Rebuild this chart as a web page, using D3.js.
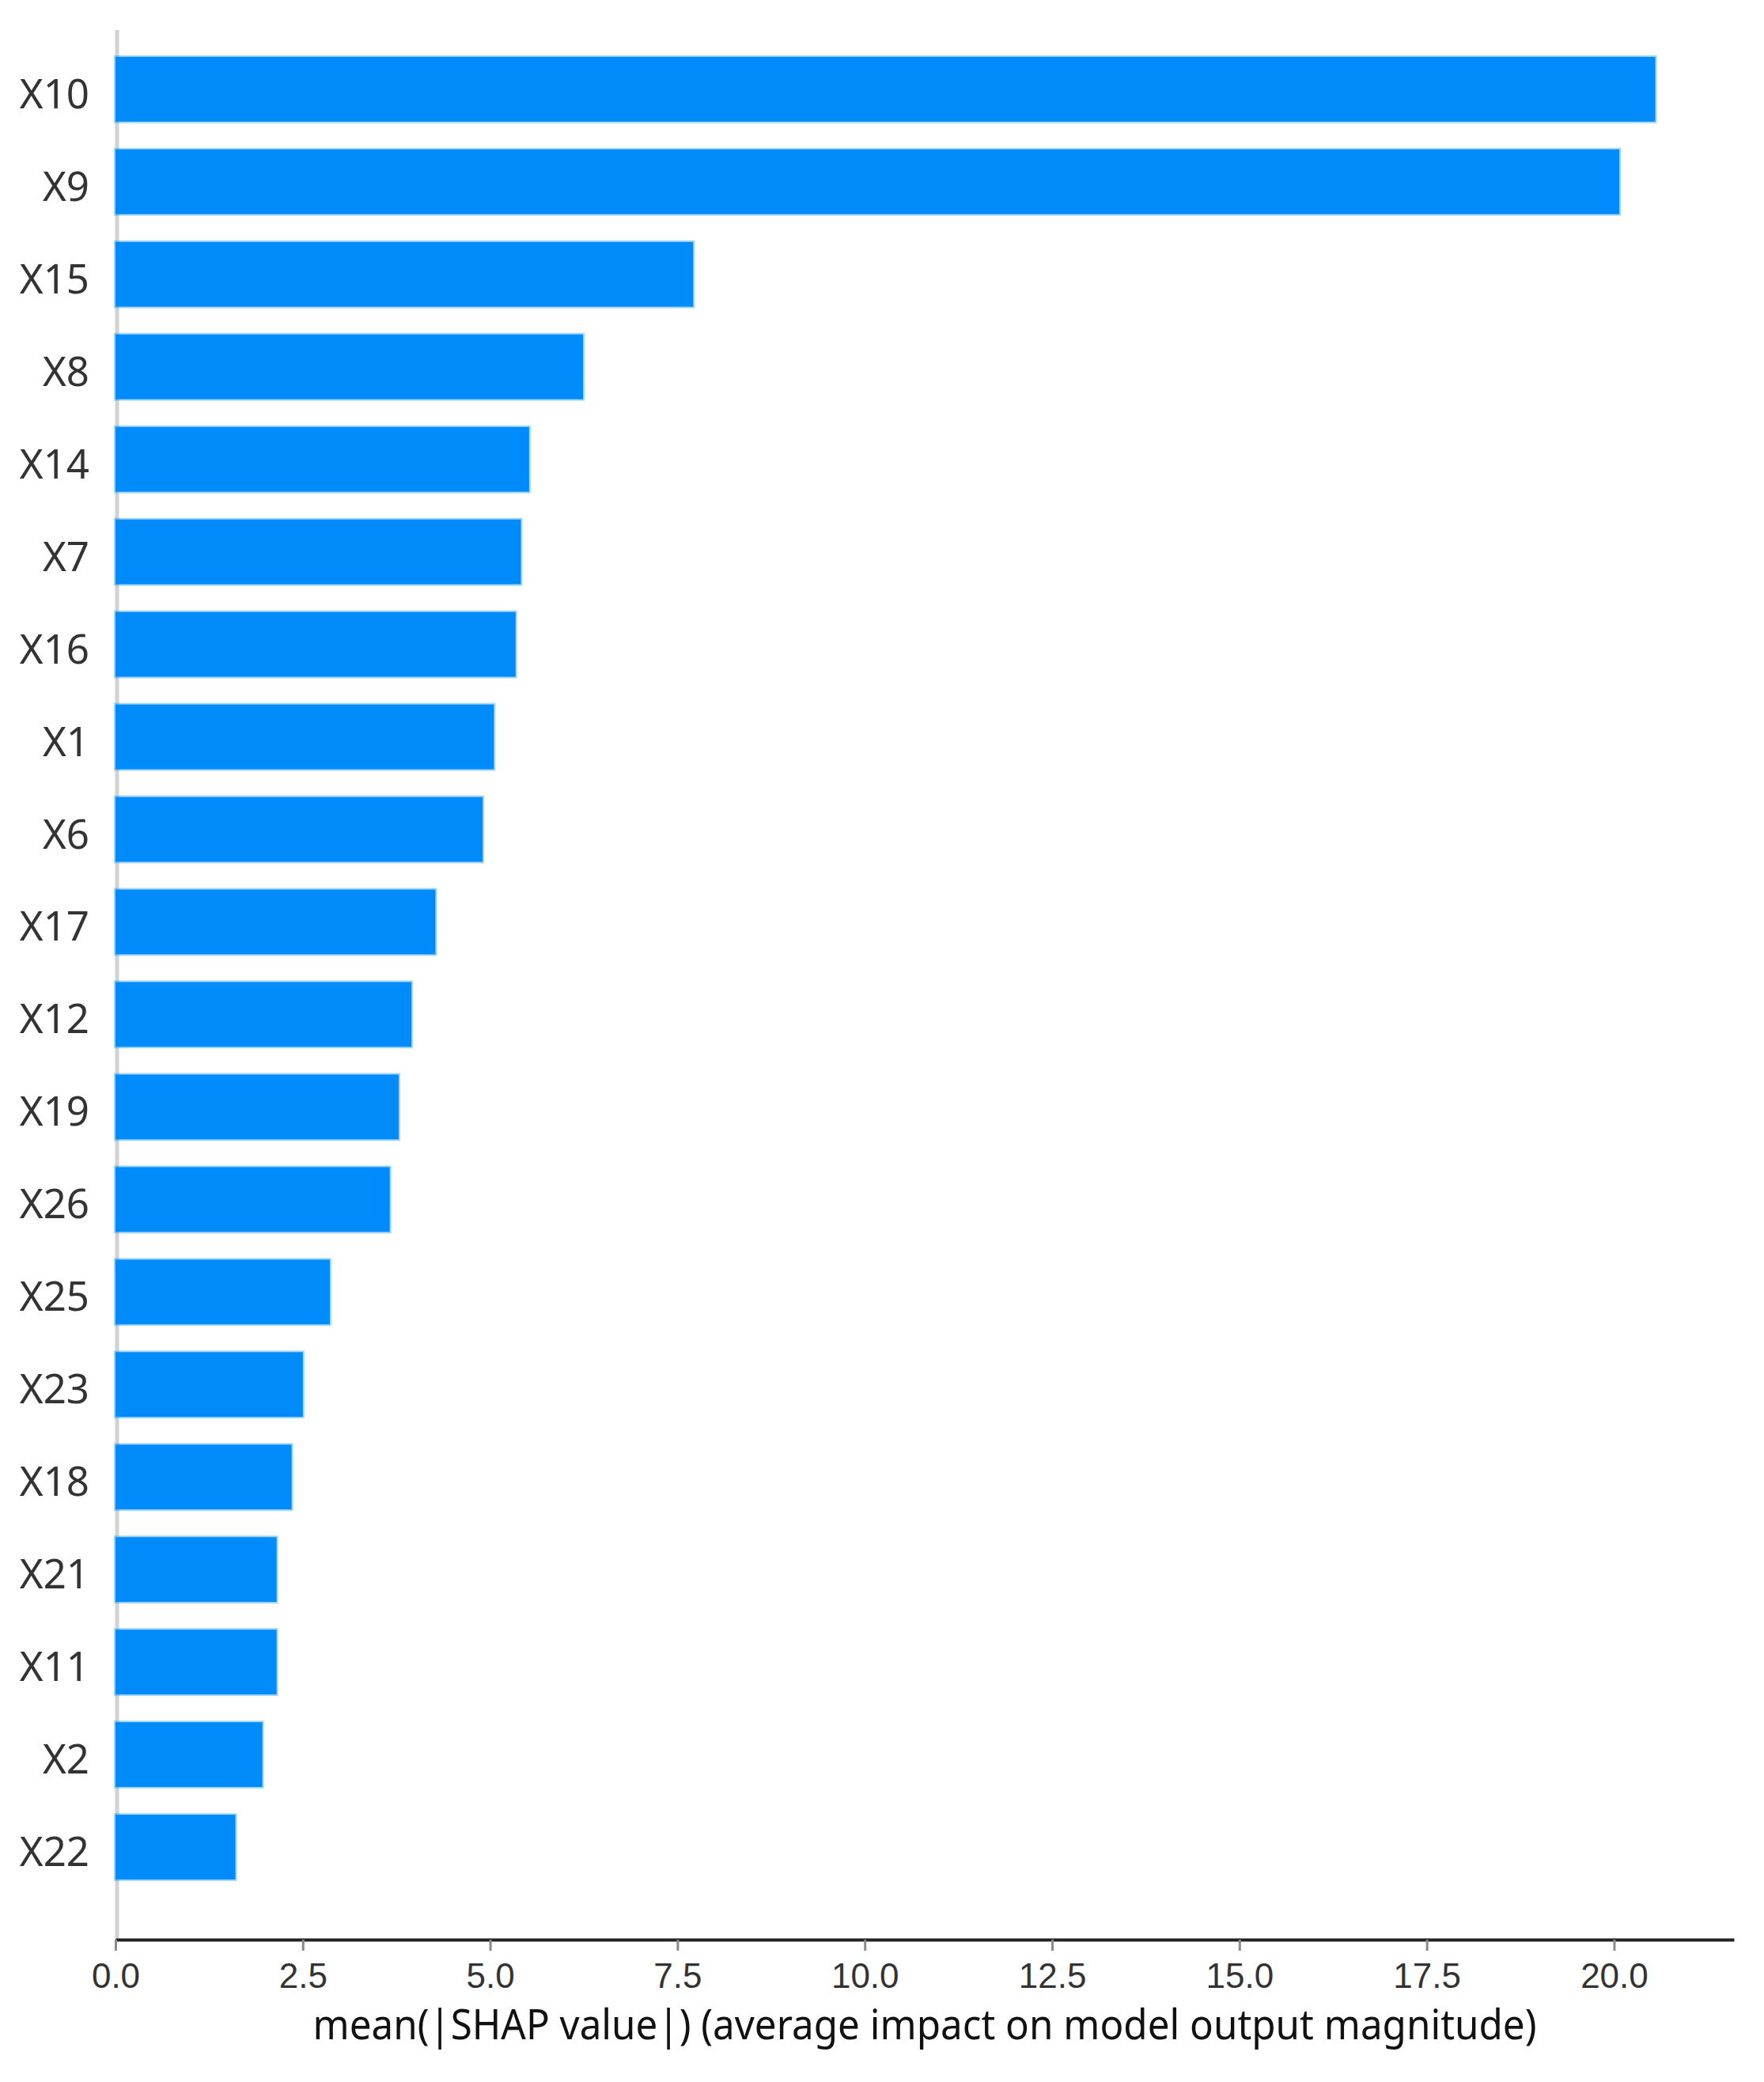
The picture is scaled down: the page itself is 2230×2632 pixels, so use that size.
<!DOCTYPE html>
<html>
<head>
<meta charset="utf-8">
<script src="https://cdn.jsdelivr.net/npm/d3@7"></script>
<style>
  html, body { margin: 0; padding: 0; background: #ffffff; }
  svg { display: block; }
</style>
</head>
<body>
<script>
// Feature names, ordered from most to least important
const features = ["X10", "X9", "X15", "X8", "X14", "X7", "X16", "X1", "X6", "X17",
                  "X12", "X19", "X26", "X25", "X23", "X18", "X21", "X11", "X2", "X22"];
// mean(|SHAP value|) per feature
const meanAbsShap = [20.55, 20.07, 7.71, 6.24, 5.52, 5.41, 5.34, 5.05, 4.90, 4.27,
                     3.95, 3.78, 3.66, 2.86, 2.50, 2.35, 2.15, 2.15, 1.96, 1.60];
// x-axis ticks
const xTicks = [0, 2.5, 5, 7.5, 10, 12.5, 15, 17.5, 20];
const xLabel = "mean(|SHAP value|) (average impact on model output magnitude)";

const W = 2230, H = 2632;
const svg = d3.select("body").append("svg")
  .attr("width", W).attr("height", H)
  .attr("viewBox", `0 0 ${W} ${H}`);
svg.append("rect").attr("width", W).attr("height", H).attr("fill", "#ffffff");

const x = d3.scaleLinear().domain([0, 21.6]).range([146, 2192]);
const y = d3.scaleLinear().domain([-0.64, features.length]).range([38, 2452]);
const barH = y(0.7) - y(0);

// left spine
svg.append("line")
  .attr("x1", 148).attr("x2", 148)
  .attr("y1", y(-0.64)).attr("y2", y(features.length))
  .attr("stroke", "#d2d2d2").attr("stroke-width", 5);

// bars
svg.append("g").selectAll("rect")
  .data(features)
  .join("rect")
  .attr("x", x(0))
  .attr("y", (d, i) => y(i) - barH / 2)
  .attr("width", (d, i) => x(meanAbsShap[i]) - x(0))
  .attr("height", barH)
  .attr("fill", "#008bfb")
  .attr("stroke", "#008bfb")
  .attr("stroke-opacity", 0.35)
  .attr("stroke-width", 4);

// feature labels
svg.append("g").selectAll("text")
  .data(features)
  .join("text")
  .attr("x", 113)
  .attr("y", (d, i) => y(i))
  .attr("dy", 24)
  .attr("text-anchor", "end")
  .attr("font-family", "'Noto Sans', sans-serif")
  .attr("font-size", 51)
  .attr("fill", "#333333")
  .text(d => d);

// bottom axis
const axis = d3.axisBottom(x)
  .tickValues(xTicks)
  .tickFormat(d3.format(".1f"))
  .tickSize(14)
  .tickPadding(16)
  .tickSizeOuter(0);

const gx = svg.append("g")
  .attr("transform", `translate(0, ${y(features.length)})`)
  .call(axis);

gx.select(".domain")
  .attr("stroke", "#222222")
  .attr("stroke-width", 4);
gx.selectAll(".tick line")
  .attr("stroke", "#8a8a8a")
  .attr("stroke-width", 3);
gx.selectAll(".tick text")
  .attr("font-family", "'Liberation Sans', sans-serif")
  .attr("font-size", 44)
  .attr("fill", "#333333");

// axis title
svg.append("text")
  .attr("x", (x.range()[0] + x.range()[1]) / 2)
  .attr("y", 2578)
  .attr("text-anchor", "middle")
  .attr("font-family", "'Noto Sans', sans-serif")
  .attr("font-size", 52)
  .attr("fill", "#111111")
  .attr("textLength", 1547)
  .attr("lengthAdjust", "spacingAndGlyphs")
  .text(xLabel);
</script>
</body>
</html>
